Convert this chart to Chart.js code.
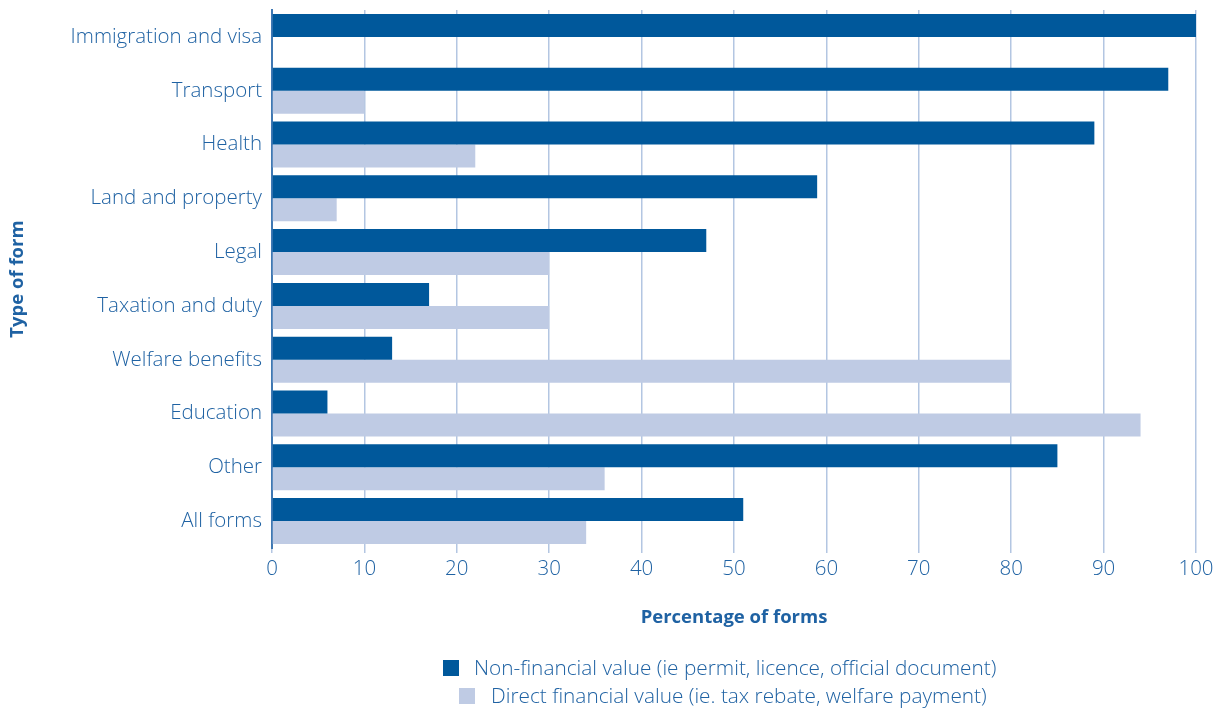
<!DOCTYPE html>
<html>
<head>
<meta charset="utf-8">
<script src="https://cdn.jsdelivr.net/npm/chart.js@4.4.1/dist/chart.umd.min.js"></script>
<style>
  html, body { margin: 0; padding: 0; background: #ffffff; }
  #wrap { position: relative; width: 1226px; height: 713px; }
  canvas { position: absolute; left: 0; top: 0; }
  .leg { position: absolute; font-family: "Open Sans", "Liberation Sans", sans-serif; font-weight: 300; font-size: 20.8px; color: #1f62a3; white-space: nowrap; line-height: 24px; }
  .sw { position: absolute; width: 16px; height: 16px; }
</style>
</head>
<body>
<div id="wrap">
  <canvas id="c" width="1226" height="713"></canvas>
  <div class="sw" style="left:443px;top:660px;background:#00589b;"></div>
  <div class="leg" style="left:474px;top:655px;">Non-financial value (ie permit, licence, official document)</div>
  <div class="sw" style="left:459px;top:688px;background:#bfcbe4;"></div>
  <div class="leg" style="left:491px;top:683px;">Direct financial value (ie. tax rebate, welfare payment)</div>
</div>
<script>
const categories = ["Immigration and visa", "Transport", "Health", "Land and property", "Legal", "Taxation and duty", "Welfare benefits", "Education", "Other", "All forms"];
const nonFinancial = [100, 97, 89, 59, 47, 17, 13, 6, 85, 51];
const directFinancial = [0, 10, 22, 7, 30, 30, 80, 94, 36, 34];
const xTicks = [0, 10, 20, 30, 40, 50, 60, 70, 80, 90, 100];

const textColor = "#1f62a3";
const fontFamily = '"Open Sans", "Liberation Sans", sans-serif';

new Chart(document.getElementById("c"), {
  type: "bar",
  data: {
    labels: categories,
    datasets: [
      { label: "Non-financial value (ie permit, licence, official document)", data: nonFinancial, backgroundColor: "#00589b", barPercentage: 1.0, categoryPercentage: 0.855 },
      { label: "Direct financial value (ie. tax rebate, welfare payment)", data: directFinancial, backgroundColor: "#bfcbe4", barPercentage: 1.0, categoryPercentage: 0.855 }
    ]
  },
  options: {
    indexAxis: "y",
    responsive: false,
    animation: false,
    layout: { padding: { top: 10, right: 30, bottom: 84, left: 0 } },
    plugins: { legend: { display: false }, tooltip: { enabled: false } },
    scales: {
      x: {
        min: 0, max: 100,
        afterBuildTicks: (s) => { s.ticks = xTicks.map(v => ({ value: v })); },
        afterFit: (s) => { s.height = 81; },
        grid: { color: "#b3c6e2", lineWidth: 1.5, tickLength: 5, drawOnChartArea: true },
        border: { display: false },
        ticks: { color: textColor, font: { family: fontFamily, size: 20.5, weight: "300" }, padding: 4 },
        title: { display: true, text: "Percentage of forms", color: textColor, font: { family: fontFamily, size: 18.5, weight: "bold" }, padding: { top: 0, bottom: 0 } }
      },
      y: {
        afterFit: (s) => { s.width = 272; s.paddingTop = 0; s.paddingBottom = 0; },
        grid: { display: false, drawTicks: false, tickLength: 0 },
        border: { display: true, color: "#3f78b3", width: 2 },
        ticks: { color: textColor, font: { family: fontFamily, size: 20.5, weight: "300" }, padding: 10 },
        title: { display: true, text: "Type of form", color: textColor, font: { family: fontFamily, size: 18.5, weight: "bold" }, padding: { top: 7, bottom: 0 } }
      }
    }
  }
});
</script>
</body>
</html>
